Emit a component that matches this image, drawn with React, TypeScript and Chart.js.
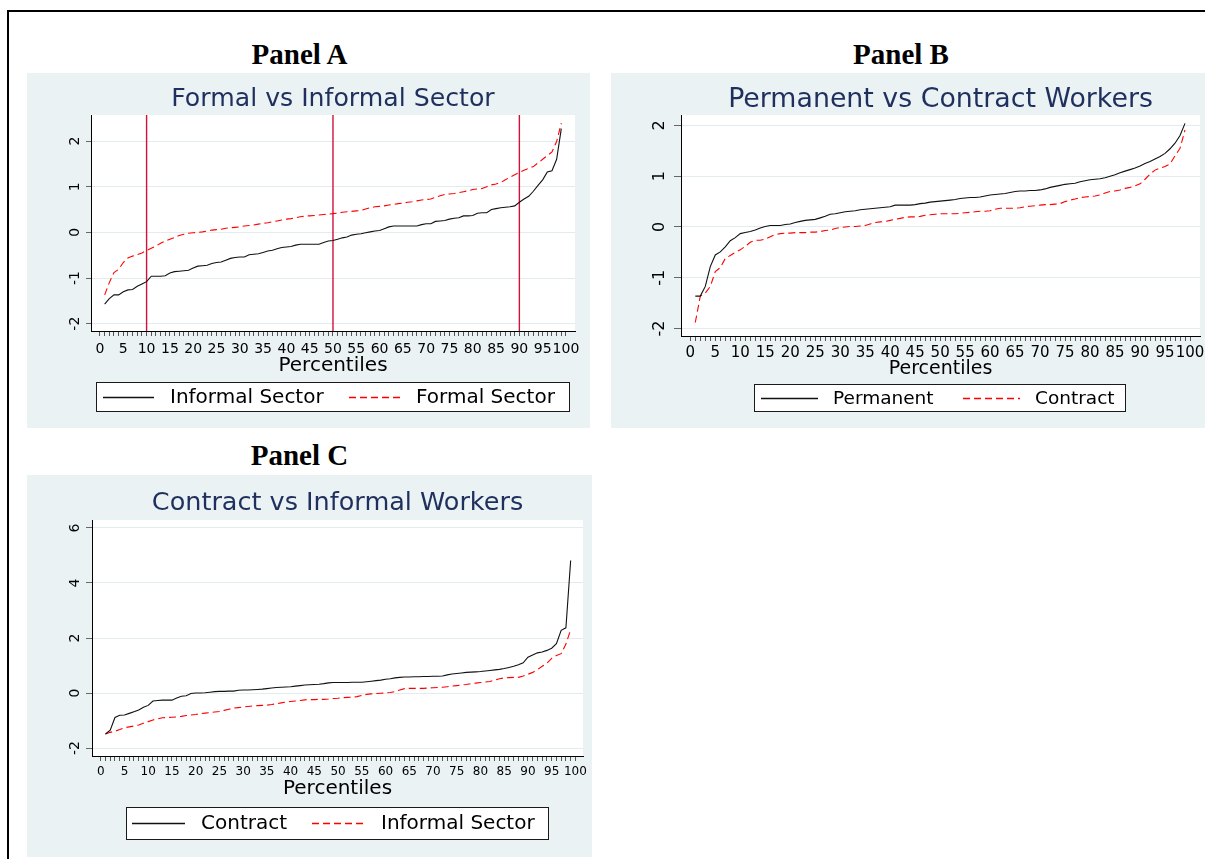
import React, { useEffect, useRef } from "react";
import { Chart, registerables } from "chart.js";

Chart.register(...registerables);

// Percentile positions shared by every series
const PERCENTILES = [
  1, 2, 3, 4, 5, 6, 7, 8, 9, 10, 11, 12, 13, 14, 15, 16, 17, 18, 19, 20,
  21, 22, 23, 24, 25, 26, 27, 28, 29, 30, 31, 32, 33, 34, 35, 36, 37, 38, 39, 40,
  41, 42, 43, 44, 45, 46, 47, 48, 49, 50, 51, 52, 53, 54, 55, 56, 57, 58, 59, 60,
  61, 62, 63, 64, 65, 66, 67, 68, 69, 70, 71, 72, 73, 74, 75, 76, 77, 78, 79, 80,
  81, 82, 83, 84, 85, 86, 87, 88, 89, 90, 91, 92, 93, 94, 95, 96, 97, 98, 99,
];

// Labelled x ticks (minor ticks fall on every whole percentile)
const X_TICK_LABELS = [0, 5, 10, 15, 20, 25, 30, 35, 40, 45, 50, 55, 60, 65, 70, 75, 80, 85, 90, 95, 100];
const X_TICK_FIRST = 0;
const X_TICK_LAST = 100;

// Panel A: Formal vs Informal Sector
const A_INFORMAL = [
  -1.57, -1.45, -1.37, -1.37, -1.30, -1.26, -1.25, -1.18, -1.13, -1.08,
  -0.96, -0.96, -0.96, -0.95, -0.89, -0.86, -0.85, -0.84, -0.83, -0.78,
  -0.74, -0.73, -0.72, -0.68, -0.66, -0.65, -0.61, -0.57, -0.55, -0.54,
  -0.54, -0.49, -0.48, -0.47, -0.44, -0.41, -0.39, -0.36, -0.33, -0.32,
  -0.31, -0.28, -0.26, -0.26, -0.26, -0.26, -0.26, -0.22, -0.19, -0.18,
  -0.15, -0.12, -0.10, -0.06, -0.04, -0.03, -0.01, 0.01, 0.03, 0.04,
  0.08, 0.12, 0.14, 0.14, 0.14, 0.14, 0.14, 0.14, 0.17, 0.19,
  0.19, 0.24, 0.25, 0.26, 0.29, 0.31, 0.32, 0.36, 0.36, 0.37,
  0.42, 0.43, 0.43, 0.50, 0.52, 0.54, 0.55, 0.56, 0.58, 0.66,
  0.73, 0.79, 0.90, 1.03, 1.15, 1.32, 1.35, 1.60, 2.27,
];
const A_FORMAL = [
  -1.37, -1.10, -0.88, -0.81, -0.66, -0.56, -0.52, -0.49, -0.45, -0.40,
  -0.35, -0.30, -0.24, -0.19, -0.15, -0.11, -0.07, -0.04, -0.02, -0.01,
  0.00, 0.01, 0.03, 0.05, 0.06, 0.07, 0.09, 0.10, 0.11, 0.12,
  0.14, 0.15, 0.16, 0.18, 0.20, 0.21, 0.23, 0.25, 0.27, 0.29,
  0.30, 0.32, 0.34, 0.36, 0.36, 0.37, 0.38, 0.39, 0.40, 0.41,
  0.42, 0.44, 0.45, 0.46, 0.47, 0.48, 0.51, 0.54, 0.56, 0.57,
  0.58, 0.60, 0.61, 0.63, 0.64, 0.66, 0.67, 0.69, 0.71, 0.72,
  0.73, 0.77, 0.80, 0.83, 0.84, 0.85, 0.87, 0.89, 0.91, 0.94,
  0.95, 0.96, 1.00, 1.04, 1.06, 1.09, 1.15, 1.21, 1.26, 1.31,
  1.36, 1.40, 1.44, 1.52, 1.60, 1.68, 1.76, 1.99, 2.39,
];
const A_REFERENCE_LINES = [10, 50, 90];
const A_Y_TICKS = [-2, -1, 0, 1, 2];

// Panel B: Permanent vs Contract Workers
const B_PERMANENT = [
  -1.36, -1.36, -1.17, -0.78, -0.55, -0.49, -0.39, -0.27, -0.21, -0.13,
  -0.11, -0.09, -0.06, -0.02, 0.01, 0.03, 0.03, 0.03, 0.05, 0.06,
  0.09, 0.11, 0.13, 0.14, 0.15, 0.18, 0.21, 0.25, 0.26, 0.28,
  0.30, 0.31, 0.32, 0.34, 0.35, 0.36, 0.37, 0.38, 0.39, 0.40,
  0.43, 0.43, 0.43, 0.43, 0.44, 0.46, 0.47, 0.49, 0.50, 0.51,
  0.52, 0.53, 0.54, 0.56, 0.57, 0.58, 0.58, 0.59, 0.61, 0.63,
  0.64, 0.65, 0.66, 0.68, 0.70, 0.71, 0.71, 0.72, 0.72, 0.73,
  0.75, 0.78, 0.80, 0.82, 0.84, 0.85, 0.86, 0.89, 0.91, 0.93,
  0.94, 0.95, 0.97, 1.00, 1.03, 1.07, 1.10, 1.13, 1.16, 1.20,
  1.25, 1.29, 1.34, 1.39, 1.45, 1.54, 1.65, 1.80, 2.04,
];
const B_CONTRACT = [
  -1.88, -1.36, -1.30, -1.17, -0.88, -0.80, -0.62, -0.56, -0.50, -0.45,
  -0.38, -0.30, -0.26, -0.26, -0.24, -0.19, -0.15, -0.13, -0.12, -0.12,
  -0.11, -0.11, -0.11, -0.10, -0.10, -0.09, -0.07, -0.06, -0.03, -0.01,
  0.00, 0.01, 0.01, 0.02, 0.03, 0.06, 0.09, 0.10, 0.11, 0.13,
  0.15, 0.17, 0.19, 0.20, 0.20, 0.21, 0.23, 0.24, 0.25, 0.26,
  0.26, 0.26, 0.26, 0.27, 0.28, 0.29, 0.30, 0.31, 0.31, 0.32,
  0.35, 0.37, 0.37, 0.37, 0.37, 0.38, 0.40, 0.41, 0.42, 0.43,
  0.44, 0.44, 0.45, 0.46, 0.50, 0.53, 0.55, 0.58, 0.59, 0.60,
  0.61, 0.63, 0.67, 0.70, 0.71, 0.73, 0.76, 0.78, 0.81, 0.85,
  0.94, 1.04, 1.12, 1.16, 1.19, 1.24, 1.40, 1.55, 1.91,
];
const B_Y_TICKS = [-2, -1, 0, 1, 2];

// Panel C: Contract vs Informal Workers
const C_CONTRACT = [
  -1.49, -1.35, -0.89, -0.81, -0.80, -0.74, -0.68, -0.62, -0.52, -0.45,
  -0.29, -0.27, -0.26, -0.26, -0.26, -0.18, -0.12, -0.10, -0.02, 0.00,
  0.00, 0.01, 0.03, 0.05, 0.06, 0.06, 0.07, 0.07, 0.10, 0.11,
  0.11, 0.12, 0.13, 0.14, 0.16, 0.18, 0.20, 0.21, 0.22, 0.23,
  0.25, 0.27, 0.29, 0.30, 0.31, 0.32, 0.34, 0.37, 0.38, 0.38,
  0.38, 0.38, 0.39, 0.39, 0.39, 0.41, 0.43, 0.45, 0.47, 0.50,
  0.52, 0.55, 0.57, 0.58, 0.58, 0.59, 0.59, 0.60, 0.60, 0.61,
  0.61, 0.62, 0.66, 0.69, 0.71, 0.73, 0.75, 0.76, 0.77, 0.78,
  0.80, 0.82, 0.84, 0.86, 0.89, 0.93, 0.97, 1.03, 1.10, 1.30,
  1.38, 1.46, 1.49, 1.55, 1.63, 1.79, 2.28, 2.37, 4.82,
];
const C_INFORMAL = [
  -1.49, -1.43, -1.39, -1.33, -1.26, -1.23, -1.20, -1.16, -1.10, -1.04,
  -0.98, -0.94, -0.90, -0.89, -0.88, -0.87, -0.85, -0.82, -0.80, -0.78,
  -0.75, -0.73, -0.71, -0.69, -0.67, -0.63, -0.59, -0.55, -0.53, -0.51,
  -0.49, -0.47, -0.46, -0.45, -0.44, -0.42, -0.39, -0.36, -0.33, -0.31,
  -0.29, -0.27, -0.25, -0.24, -0.24, -0.23, -0.23, -0.22, -0.20, -0.19,
  -0.17, -0.16, -0.15, -0.13, -0.09, -0.05, -0.03, -0.02, -0.01, 0.00,
  0.02, 0.05, 0.11, 0.16, 0.17, 0.17, 0.17, 0.17, 0.18, 0.19,
  0.20, 0.21, 0.23, 0.25, 0.27, 0.29, 0.31, 0.34, 0.36, 0.38,
  0.40, 0.42, 0.47, 0.52, 0.55, 0.56, 0.57, 0.57, 0.62, 0.68,
  0.75, 0.85, 0.97, 1.08, 1.26, 1.36, 1.43, 1.78, 2.30,
];
const C_Y_TICKS = [-2, 0, 2, 4, 6];

const FONT = "'DejaVu Sans', 'Liberation Sans', Arial, sans-serif";
const REGION_BG = "#eaf2f3";
const GRID_COLOR = "#e2ebee";
const TITLE_COLOR = "#1f2f5e";
const REF_LINE_COLOR = "#d1103c";

interface SeriesSpec {
  label: string;
  values: number[];
  color: string;
  dashed: boolean;
}

interface LegendSpec {
  box: [number, number, number, number];
  y: number;
  size: number;
  items: { x1: number; x2: number; textX: number }[];
}

interface PanelSpec {
  id: string;
  left: number;
  top: number;
  width: number;
  height: number;
  title: string;
  titleSize: number;
  titleY: number;
  area: { left: number; top: number; right: number; bottom: number };
  xRange: [number, number];
  yRange: [number, number];
  yTicks: number[];
  xFont: number;
  xPad: number;
  xTitleSize: number;
  xScaleHeight: number;
  yFont: number;
  yPad: number;
  yTickLen: number;
  series: SeriesSpec[];
  refLines: number[];
  legend: LegendSpec;
}

const PANELS: PanelSpec[] = [
  {
    id: "A",
    left: 27,
    top: 73,
    width: 563,
    height: 355,
    title: "Formal vs Informal Sector",
    titleSize: 25.2,
    titleY: 26.5,
    area: { left: 64, top: 42, right: 548, bottom: 258 },
    xRange: [-1.93, 101.94],
    yRange: [-2.16, 2.57],
    yTicks: A_Y_TICKS,
    xFont: 14,
    xPad: 5,
    xTitleSize: 20,
    xScaleHeight: 46.5,
    yFont: 14,
    yPad: 4,
    yTickLen: 5,
    series: [
      { label: "Informal Sector", values: A_INFORMAL, color: "#111111", dashed: false },
      { label: "Formal Sector", values: A_FORMAL, color: "#ff0000", dashed: true },
    ],
    refLines: A_REFERENCE_LINES,
    legend: {
      box: [69, 309, 543, 339],
      y: 324,
      size: 20,
      items: [
        { x1: 76, x2: 127, textX: 143 },
        { x1: 322, x2: 374, textX: 389 },
      ],
    },
  },
  {
    id: "B",
    left: 611,
    top: 73,
    width: 594,
    height: 355,
    title: "Permanent vs Contract Workers",
    titleSize: 26.8,
    titleY: 26.8,
    area: { left: 70, top: 42, right: 589, bottom: 263 },
    xRange: [-1.86, 102.0],
    yRange: [-2.146, 2.205],
    yTicks: B_Y_TICKS,
    xFont: 15,
    xPad: 3.5,
    xTitleSize: 19,
    xScaleHeight: 44.4,
    yFont: 16,
    yPad: 6,
    yTickLen: 7,
    series: [
      { label: "Permanent", values: B_PERMANENT, color: "#111111", dashed: false },
      { label: "Contract", values: B_CONTRACT, color: "#ff0000", dashed: true },
    ],
    refLines: [],
    legend: {
      box: [143, 311, 515, 339],
      y: 325,
      size: 18.5,
      items: [
        { x1: 150, x2: 207, textX: 222 },
        { x1: 352, x2: 409, textX: 424 },
      ],
    },
  },
  {
    id: "C",
    left: 27,
    top: 475,
    width: 565,
    height: 382,
    title: "Contract vs Informal Workers",
    titleSize: 25.5,
    titleY: 28,
    area: { left: 65, top: 45, right: 556, bottom: 281 },
    xRange: [-1.84, 101.6],
    yRange: [-2.29, 6.29],
    yTicks: C_Y_TICKS,
    xFont: 12,
    xPad: 4,
    xTitleSize: 20,
    xScaleHeight: 45,
    yFont: 14,
    yPad: 4,
    yTickLen: 6,
    series: [
      { label: "Contract", values: C_CONTRACT, color: "#111111", dashed: false },
      { label: "Informal Sector", values: C_INFORMAL, color: "#ff0000", dashed: true },
    ],
    refLines: [],
    legend: {
      box: [99, 332, 522, 365],
      y: 348,
      size: 20,
      items: [
        { x1: 105, x2: 158, textX: 174 },
        { x1: 285, x2: 338, textX: 354 },
      ],
    },
  },
];

const DASH = [7, 4];

function buildChart(canvas: HTMLCanvasElement, spec: PanelSpec) {
  const regionPlugin = {
    id: "regionBackground",
    beforeDraw(chart: any) {
      const { ctx, chartArea } = chart;
      ctx.save();
      ctx.fillStyle = REGION_BG;
      ctx.fillRect(0, 0, chart.width, chart.height);
      ctx.fillStyle = "#ffffff";
      ctx.fillRect(chartArea.left, chartArea.top, chartArea.right - chartArea.left, chartArea.bottom - chartArea.top);
      ctx.restore();
    },
  };

  const refLinePlugin = {
    id: "referenceLines",
    beforeDatasetsDraw(chart: any) {
      const { ctx, chartArea, scales } = chart;
      ctx.save();
      ctx.strokeStyle = REF_LINE_COLOR;
      ctx.lineWidth = 1.4;
      spec.refLines.forEach((v) => {
        const x = scales.x.getPixelForValue(v);
        ctx.beginPath();
        ctx.moveTo(x, chartArea.top);
        ctx.lineTo(x, chartArea.bottom);
        ctx.stroke();
      });
      ctx.restore();
    },
  };

  const titleLegendPlugin = {
    id: "titleAndLegend",
    afterDraw(chart: any) {
      const { ctx, chartArea } = chart;
      ctx.save();
      // plot title, centred over the plot region
      ctx.fillStyle = TITLE_COLOR;
      ctx.font = `${spec.titleSize}px ${FONT}`;
      ctx.textAlign = "center";
      ctx.textBaseline = "middle";
      ctx.fillText(spec.title, (chartArea.left + chartArea.right) / 2, spec.titleY);

      // legend box
      const [x1, y1, x2, y2] = spec.legend.box;
      ctx.fillStyle = "#ffffff";
      ctx.fillRect(x1, y1, x2 - x1, y2 - y1);
      ctx.strokeStyle = "#1a1a1a";
      ctx.lineWidth = 1;
      ctx.strokeRect(x1 + 0.5, y1 + 0.5, x2 - x1 - 1, y2 - y1 - 1);

      ctx.textAlign = "left";
      ctx.font = `${spec.legend.size}px ${FONT}`;
      spec.series.forEach((s, i) => {
        const item = spec.legend.items[i];
        const ds = chart.data.datasets[i];
        ctx.save();
        ctx.beginPath();
        ctx.setLineDash(s.dashed ? DASH : []);
        ctx.strokeStyle = s.color;
        ctx.lineWidth = 1.3;
        ctx.moveTo(item.x1, spec.legend.y + 0.5);
        ctx.lineTo(item.x2, spec.legend.y + 0.5);
        ctx.stroke();
        ctx.restore();
        ctx.fillStyle = "#000000";
        ctx.fillText(ds.label, item.textX, spec.legend.y + 1);
      });
      ctx.restore();
    },
  };

  const a = spec.area;
  return new Chart(canvas, {
    type: "line",
    data: {
      datasets: spec.series.map((s) => ({
        label: s.label,
        data: PERCENTILES.map((p, i) => ({ x: p, y: s.values[i] })),
        borderColor: s.color,
        borderWidth: 1.1,
        borderDash: s.dashed ? DASH : [],
        pointRadius: 0,
        tension: 0,
        fill: false,
      })),
    },
    options: {
      animation: false,
      responsive: false,
      devicePixelRatio: 1,
      events: [],
      layout: {
        autoPadding: false,
        padding: {
          left: 0,
          top: a.top,
          right: spec.width - a.right,
          bottom: spec.height - a.bottom - spec.xScaleHeight,
        },
      },
      plugins: {
        legend: { display: false },
        title: { display: false },
        tooltip: { enabled: false },
      },
      scales: {
        x: {
          type: "linear",
          position: "bottom",
          min: spec.xRange[0],
          max: spec.xRange[1],
          afterBuildTicks: (scale: any) => {
            const ticks = [];
            for (let v = X_TICK_FIRST; v <= X_TICK_LAST; v += 1) ticks.push({ value: v });
            scale.ticks = ticks;
          },
          afterFit: (scale: any) => {
            scale.height = spec.xScaleHeight;
            scale.paddingLeft = 0;
            scale.paddingRight = 0;
          },
          ticks: {
            autoSkip: false,
            minRotation: 0,
            maxRotation: 0,
            padding: spec.xPad,
            color: "#000000",
            font: { family: FONT, size: spec.xFont },
            callback: (value: any) => (X_TICK_LABELS.includes(Number(value)) ? String(value) : ""),
          },
          grid: {
            display: true,
            drawOnChartArea: false,
            drawTicks: true,
            tickLength: 5,
            tickColor: "#555555",
            tickWidth: 1,
          },
          border: { display: true, color: "#000000", width: 1 },
          title: {
            display: true,
            text: "Percentiles",
            color: "#000000",
            padding: 0,
            font: { family: FONT, size: spec.xTitleSize },
          },
        },
        y: {
          type: "linear",
          position: "left",
          min: spec.yRange[0],
          max: spec.yRange[1],
          afterBuildTicks: (scale: any) => {
            scale.ticks = spec.yTicks.map((v) => ({ value: v }));
          },
          afterFit: (scale: any) => {
            scale.width = a.left;
            scale.paddingTop = 0;
            scale.paddingBottom = 0;
          },
          ticks: {
            minRotation: 90,
            maxRotation: 90,
            crossAlign: "center",
            padding: spec.yPad,
            color: "#000000",
            font: { family: FONT, size: spec.yFont },
          },
          grid: {
            color: GRID_COLOR,
            lineWidth: 1,
            drawTicks: true,
            tickLength: spec.yTickLen,
            tickColor: "#666666",
            tickWidth: 1,
          },
          border: { display: true, color: "#000000", width: 1 },
        },
      },
    },
    plugins: [regionPlugin, refLinePlugin, titleLegendPlugin],
  } as any);
}

function PanelChart({ spec }: { spec: PanelSpec }) {
  const ref = useRef<HTMLCanvasElement | null>(null);
  useEffect(() => {
    if (!ref.current) return;
    const chart = buildChart(ref.current, spec);
    return () => chart.destroy();
  }, [spec]);
  return (
    <canvas
      ref={ref}
      width={spec.width}
      height={spec.height}
      style={{
        position: "absolute",
        left: spec.left,
        top: spec.top,
        width: spec.width,
        height: spec.height,
        display: "block",
      }}
    />
  );
}

const PANEL_LABELS = [
  { text: "Panel A", cx: 299.5, cy: 55 },
  { text: "Panel B", cx: 901, cy: 55 },
  { text: "Panel C", cx: 299.5, cy: 456 },
];

export default function App() {
  return (
    <div
      style={{
        position: "absolute",
        left: 0,
        top: 0,
        width: 1205,
        height: 859,
        background: "#ffffff",
        overflow: "hidden",
      }}
    >
      <div style={{ position: "absolute", left: 7, top: 10, width: 1198, height: 2, background: "#000" }} />
      <div style={{ position: "absolute", left: 7, top: 10, width: 2, height: 849, background: "#000" }} />
      {PANEL_LABELS.map((p) => (
        <div
          key={p.text}
          style={{
            position: "absolute",
            left: p.cx - 100,
            width: 200,
            top: p.cy - 14.7,
            textAlign: "center",
            fontFamily: "'Liberation Serif', 'Times New Roman', serif",
            fontWeight: "bold",
            fontSize: 29,
            lineHeight: "29px",
            color: "#000",
            whiteSpace: "nowrap",
          }}
        >
          {p.text}
        </div>
      ))}
      {PANELS.map((spec) => (
        <PanelChart key={spec.id} spec={spec} />
      ))}
    </div>
  );
}
